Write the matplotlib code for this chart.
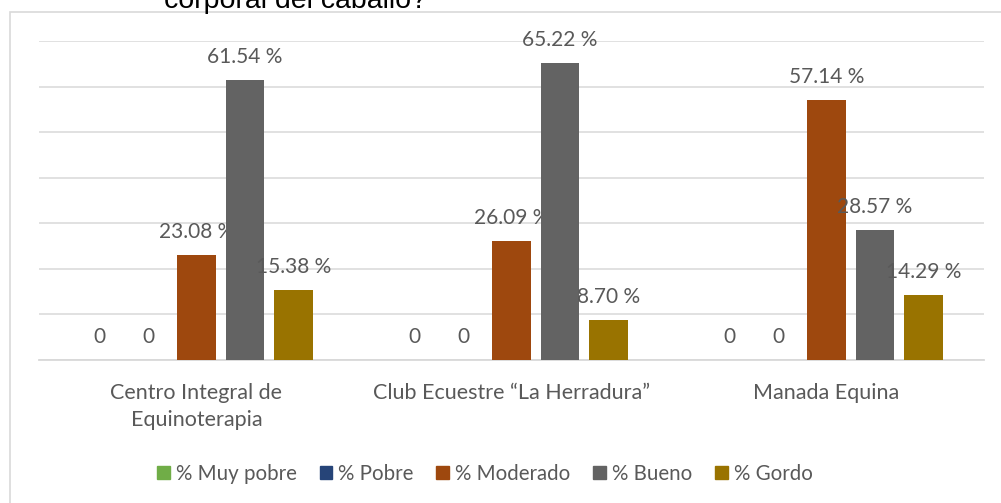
import numpy as np
import matplotlib
matplotlib.use("Agg")
import matplotlib.pyplot as plt
from matplotlib.patches import Patch, Rectangle

# data
categories = ["Centro Integral de\nEquinoterapia", "Club Ecuestre \u201cLa Herradura\u201d", "Manada Equina"]
series = ["% Muy pobre", "% Pobre", "% Moderado", "% Bueno", "% Gordo"]
muy_pobre = [0, 0, 0]
pobre = [0, 0, 0]
moderado = [23.08, 26.09, 57.14]
bueno = [61.54, 65.22, 28.57]
gordo = [15.38, 8.70, 14.29]
colors = ["#70ad47", "#264478", "#9e480e", "#636363", "#997300"]

values = [muy_pobre, pobre, moderado, bueno, gordo]

plt.rcParams['font.family'] = ['Lato', 'DejaVu Sans']
txt = "#595959"

fig = plt.figure(figsize=(10.01, 5.03), dpi=100)
W, H = 1001, 503
ax = fig.add_axes([39 / W, 1 - 360 / H, 945 / W, 319 / H])

x = np.arange(len(categories))
step = 0.154
width = 0.121
for i, (name, vals, c) in enumerate(zip(series, values, colors)):
    pos = x + (i - 2) * step
    ax.bar(pos, vals, width, color=c, linewidth=0, label=name, zorder=3)
    for px, v in zip(pos, vals):
        lbl = "0" if v == 0 else f"{v:.2f} %"
        ax.annotate(lbl, (px, v), xytext=(0, 16.5), textcoords="offset points",
                    ha="center", va="center", fontsize=15, color=txt)

ax.set_xlim(-0.5, 2.5)
ax.set_ylim(0, 70)
ax.set_yticks(np.arange(0, 71, 10))
ax.yaxis.grid(True, color="#d9d9d9", linewidth=1.1, zorder=0)
ax.tick_params(axis="y", left=False, labelleft=False)
ax.tick_params(axis="x", bottom=False, pad=13)
ax.set_xticks(x)
ax.set_xticklabels(categories, fontsize=15.5, color=txt, linespacing=1.45)
for s in ["top", "right", "left"]:
    ax.spines[s].set_visible(False)
ax.spines["bottom"].set_color("#d9d9d9")
ax.spines["bottom"].set_linewidth(1.3)

handles = [Patch(color=c, label=s) for s, c in zip(series, colors)]
fig.legend(handles=handles, loc="center", bbox_to_anchor=(485 / W, 1 - 474 / H),
           ncol=5, frameon=False, fontsize=14.8, handlelength=0.62, handleheight=0.62,
           handletextpad=0.3, columnspacing=1.1, labelcolor=txt)

# chart frame (only top and left edges visible in the crop)
fig.add_artist(Rectangle((10 / W, -0.1), 1.2, 1 - 12 / H + 0.1, transform=fig.transFigure,
                         fill=False, edgecolor="#d9d9d9", linewidth=1.2))

# title, cut off at the top of the image
fig.text(295 / W, 1 - 8 / H, "corporal del caballo?", ha="center", va="baseline",
         fontsize=20.5, family="Liberation Sans", color="black")

fig.savefig("out.png", dpi=100)
